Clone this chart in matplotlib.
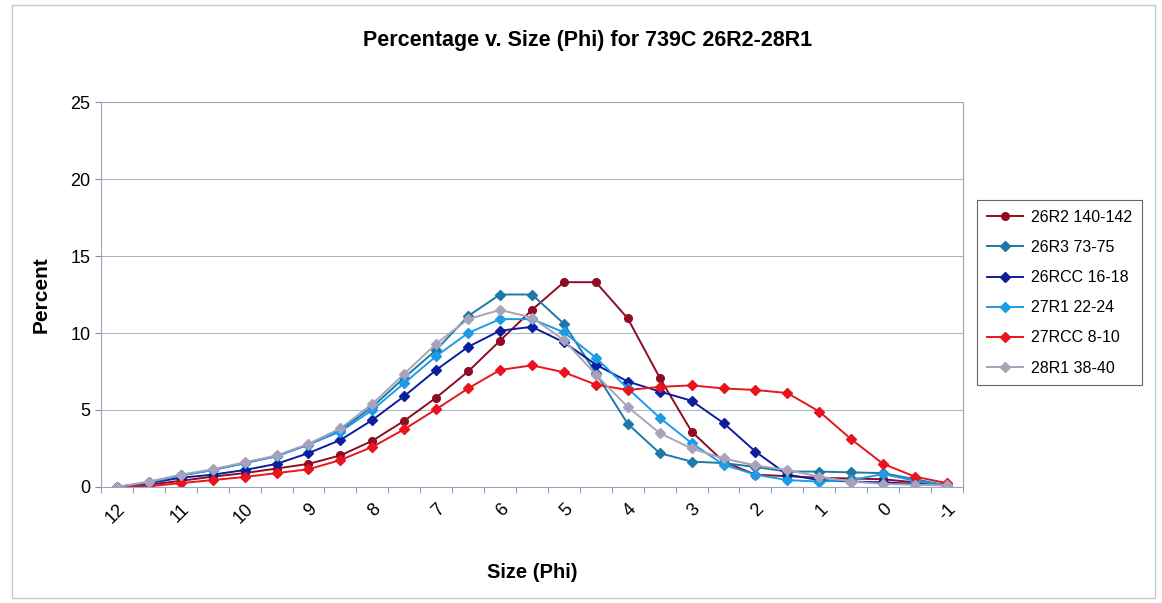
import matplotlib.pyplot as plt
import matplotlib.patches as patches
import numpy as np

plt.rcParams['font.family'] = ['Liberation Sans', 'DejaVu Sans']

phi = [12, 11.5, 11, 10.5, 10, 9.5, 9, 8.5, 8, 7.5, 7, 6.5, 6, 5.5,
       5, 4.5, 4, 3.5, 3, 2.5, 2, 1.5, 1, 0.5, 0, -0.5, -1]

s26r2 = [0, 0.15, 0.4, 0.67, 0.9, 1.2, 1.5, 2.05, 3.0, 4.3, 5.8, 7.5, 9.5, 11.5,
         13.3, 13.3, 10.95, 7.1, 3.6, 1.65, 0.8, 0.7, 0.6, 0.55, 0.5, 0.3, 0.15]
s26r3 = [0, 0.3, 0.75, 1.1, 1.55, 2.0, 2.75, 3.7, 5.2, 7.1, 8.9, 11.1, 12.5, 12.5,
         10.6, 7.4, 4.1, 2.2, 1.65, 1.55, 1.3, 1.0, 1.0, 0.95, 0.9, 0.5, 0.1]
s26rcc = [0, 0.25, 0.6, 0.8, 1.1, 1.5, 2.2, 3.05, 4.35, 5.9, 7.6, 9.1, 10.15, 10.4,
          9.4, 7.95, 6.85, 6.2, 5.6, 4.15, 2.3, 0.8, 0.45, 0.35, 0.3, 0.2, 0.1]
s27r1 = [0, 0.3, 0.75, 1.1, 1.55, 2.0, 2.75, 3.6, 5.0, 6.75, 8.5, 10.0, 10.9, 10.9,
         10.05, 8.4, 6.4, 4.5, 2.85, 1.45, 0.8, 0.45, 0.35, 0.45, 0.84, 0.4, 0.1]
s27rcc = [0, 0.05, 0.25, 0.45, 0.65, 0.9, 1.15, 1.75, 2.6, 3.75, 5.05, 6.4, 7.6, 7.9,
          7.45, 6.65, 6.3, 6.5, 6.6, 6.4, 6.3, 6.1, 4.9, 3.1, 1.5, 0.67, 0.25]
s28r1 = [0, 0.35, 0.8, 1.15, 1.6, 2.05, 2.8, 3.8, 5.4, 7.35, 9.3, 10.9, 11.5, 11.0,
         9.55, 7.3, 5.2, 3.5, 2.5, 1.85, 1.4, 1.1, 0.67, 0.35, 0.2, 0.15, 0.1]

labels = ["26R2 140-142", "26R3 73-75", "26RCC 16-18",
          "27R1 22-24", "27RCC 8-10", "28R1 38-40"]
series = [s26r2, s26r3, s26rcc, s27r1, s27rcc, s28r1]
colors = ["#8E0C24", "#1E78A8", "#0C1E9C", "#1E9BE6", "#E8141E", "#A8A2BA"]
markers = ["o", "D", "D", "D", "D", "D"]

fig = plt.figure(figsize=(11.62, 6.03), dpi=100)
ax = fig.add_axes([0.0869, 0.1924, 0.7418, 0.6384])

for y, lab, c, m in zip(series, labels, colors, markers):
    ax.plot(phi, y, color=c, marker=m, markersize=5.5 if m == "o" else 5,
            linewidth=1.4, label=lab)

ax.set_xlim(12.25, -1.25)
ax.set_ylim(0, 25)
ax.set_yticks([0, 5, 10, 15, 20, 25])
ax.set_xticks(np.arange(12, -2, -1))
ax.set_xticklabels([str(v) for v in range(12, -2, -1)], rotation=45,
                   ha='right', va='top', rotation_mode='anchor')
ax.set_xticks(np.arange(12.25, -1.5, -0.5), minor=True)
ax.tick_params(axis='x', which='major', length=0, labelsize=13, pad=10)
ax.tick_params(axis='x', which='minor', length=4, color='#7F8FA8')
ax.tick_params(axis='y', length=4, color='#7F8FA8', labelsize=13)
ax.grid(axis='y', color='#A8B8C8', linewidth=0.8)
ax.set_axisbelow(True)
for sp in ax.spines.values():
    sp.set_color('#9AA6C0')
    sp.set_linewidth(0.8)

ax.set_ylabel("Percent", fontsize=15, fontweight='bold', labelpad=14)
ax.set_xlabel("Size (Phi)", fontsize=14.5, fontweight='bold', labelpad=26)
fig.text(0.506, 0.933, "Percentage v. Size (Phi) for 739C 26R2-28R1",
         ha='center', va='center', fontsize=15.5, fontweight='bold')

leg = ax.legend(loc='upper left', bbox_to_anchor=(0.8408, 0.668),
                bbox_transform=fig.transFigure, fontsize=11.5, frameon=True,
                fancybox=False, edgecolor='#404040', handlelength=2.3,
                handletextpad=0.5, labelspacing=0.95, borderpad=0.6,
                borderaxespad=0)
leg.get_frame().set_linewidth(0.8)

fig.patches.append(patches.Rectangle((0.010, 0.008), 0.984, 0.984,
                                     transform=fig.transFigure, fill=False,
                                     edgecolor='#C8C8C8', linewidth=1))

fig.savefig("out.png", dpi=100)
